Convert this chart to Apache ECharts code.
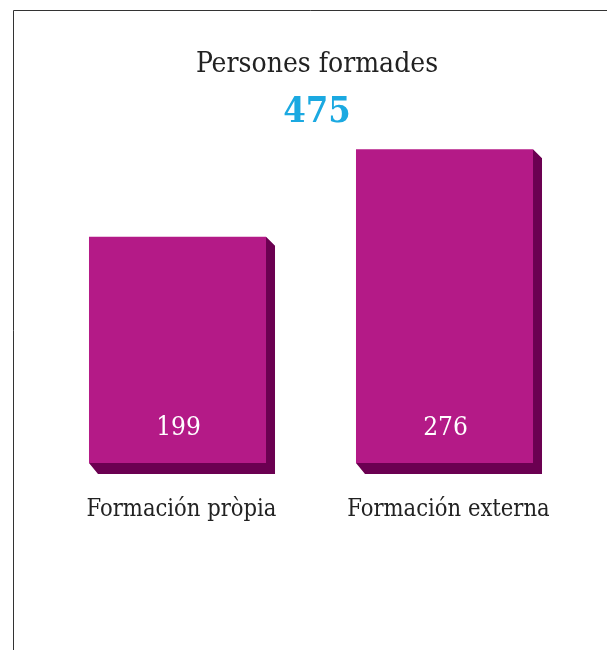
<!DOCTYPE html>
<html>
<head>
<meta charset="utf-8">
<script src="https://cdn.jsdelivr.net/npm/echarts@6/dist/echarts.min.js"></script>
<style>
  body { margin: 0; background: #fff; }
  #chart { width: 607px; height: 650px; }
</style>
</head>
<body>
<div id="chart"></div>
<script>
const categories = ["Formación pròpia", "Formación externa"];
const values = [199, 276];
const titleText = "Persones formades";
const totalText = "475";

const serif = "'DejaVu Serif Condensed', 'DejaVu Serif', serif";
const front = "#b41a87";
const dark = "#6b0051";

const chart = echarts.init(document.getElementById("chart"));

function renderBar(params, api) {
  const idx = api.value(0);
  const top = api.coord([idx, api.value(1)]);
  const base = api.coord([idx, 0]);
  const w = api.size([1, 0])[0] * 0.663;
  const x0 = top[0] - w / 2;
  const x1 = top[0] + w / 2;
  const dx = 9, dy = 11;
  return {
    type: "group",
    children: [
      {
        type: "polygon",
        shape: {
          points: [
            [x0, base[1]], [x1, base[1]], [x1, top[1]],
            [x1 + dx, top[1] + dx], [x1 + dx, base[1] + dy], [x0 + dx, base[1] + dy]
          ]
        },
        style: { fill: dark }
      },
      {
        type: "rect",
        shape: { x: x0, y: top[1], width: w, height: base[1] - top[1] },
        style: { fill: front }
      },
      {
        type: "text",
        x: top[0] + 1,
        y: base[1] - 35,
        style: {
          text: String(api.value(1)),
          fill: "#fff",
          font: "26px " + serif,
          align: "center",
          verticalAlign: "middle"
        }
      }
    ]
  };
}

chart.setOption({
  animation: false,
  title: {
    text: titleText,
    subtext: totalText,
    left: 312,
    top: 46,
    textAlign: "center",
    itemGap: 16,
    textStyle: { fontFamily: serif, fontSize: 28, fontWeight: "normal", color: "#222" },
    subtextStyle: { fontFamily: serif, fontSize: 36, fontWeight: "bold", color: "#1ba9e1" }
  },
  graphic: [
    {
      type: "polyline",
      shape: { points: [[13.5, 650], [13.5, 10.5], [607, 10.5]] },
      style: { stroke: "#333", lineWidth: 1, fill: null }
    }
  ],
  grid: { left: 44, right: 29, top: 122, bottom: 187 },
  xAxis: {
    type: "category",
    data: categories,
    axisLine: { show: false },
    axisTick: { show: false },
    axisLabel: {
      interval: 0,
      hideOverlap: false,
      margin: 35,
      padding: [0, 0, 0, 8],
      fontFamily: serif,
      fontSize: 23.5,
      color: "#222"
    }
  },
  yAxis: {
    type: "value",
    min: 0,
    max: 300,
    show: false,
    splitLine: { show: false }
  },
  series: [
    {
      type: "custom",
      renderItem: renderBar,
      data: values.map((v, i) => [i, v])
    }
  ]
});
</script>
</body>
</html>
